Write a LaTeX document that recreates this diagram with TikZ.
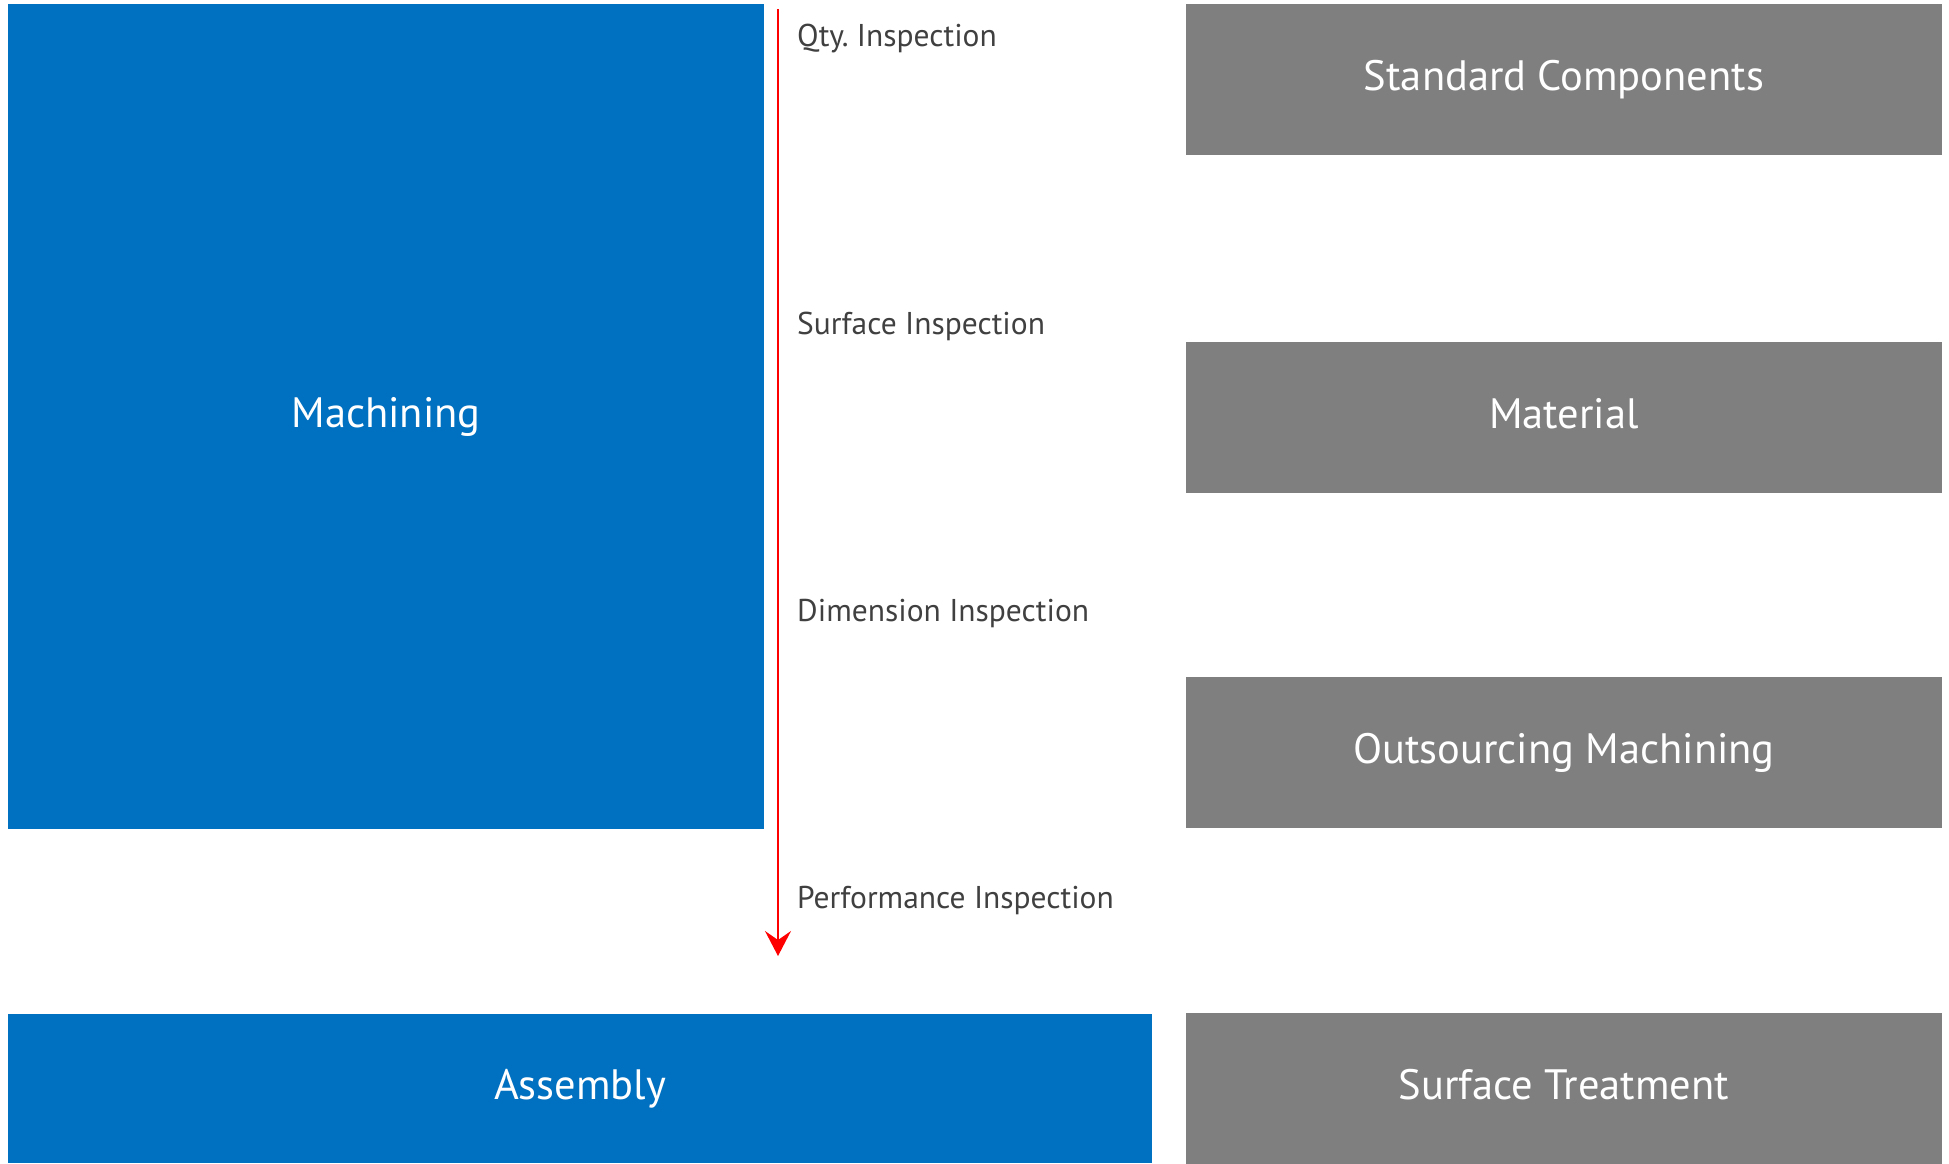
\documentclass[tikz,border=0pt]{standalone}
\usepackage{fontspec}
\setmainfont{PT Sans}
\usetikzlibrary{arrows.meta}
\definecolor{boxblue}{HTML}{0070C0}
\definecolor{boxgray}{HTML}{7F7F7F}
\definecolor{labelgray}{HTML}{404040}
\definecolor{arrowred}{HTML}{FF0000}
\frenchspacing
\begin{document}
\begin{tikzpicture}[x=1bp,y=-1bp,
  bluebox/.style={fill=boxblue, draw=none, text=white, inner sep=0pt,
    text height=30bp, text depth=8bp,
    font=\fontsize{42.5bp}{50bp}\selectfont},
  graybox/.style={fill=boxgray, draw=none, text=white, inner sep=0pt,
    minimum width=756bp, minimum height=151bp,
    text height=30bp, text depth=8bp,
    font=\fontsize{42.5bp}{50bp}\selectfont},
  insplabel/.style={anchor=base west, inner sep=0pt, text=labelgray,
    font=\fontsize{31.5bp}{36bp}\selectfont},
  flowarrow/.style={draw=arrowred, line width=1.6bp,
    -{Stealth[length=25bp,width=26bp,inset=9bp]}}]
\useasboundingbox (0,0) rectangle (1949,1163);
% blue boxes
\node[bluebox, minimum width=756bp, minimum height=825bp] (mach) at (386,416.5) {Machining};
\node[bluebox, minimum width=1144bp, minimum height=149bp] (asm) at (580,1088.5) {Assembly};
% gray boxes
\node[graybox] (std) at (1564,79.5) {Standard Components};
\node[graybox] (mat) at (1564,417) {Material};
\node[graybox] (out) at (1564,752.5) {Outsourcing Machining};
\node[graybox] (surf) at (1564,1088.5) {Surface Treatment};
% arrow
\coordinate (astart) at (778,9);
\coordinate (aend) at (778,956);
\draw[flowarrow] (astart) -- (aend);
% labels
\node[insplabel] (l1) at (797,46) {Qty. Inspection};
\node[insplabel] (l2) at (797,334) {Surface Inspection};
\node[insplabel] (l3) at (797,621) {Dimension Inspection};
\node[insplabel] (l4) at (797,908) {Performance Inspection};
\end{tikzpicture}
\end{document}
